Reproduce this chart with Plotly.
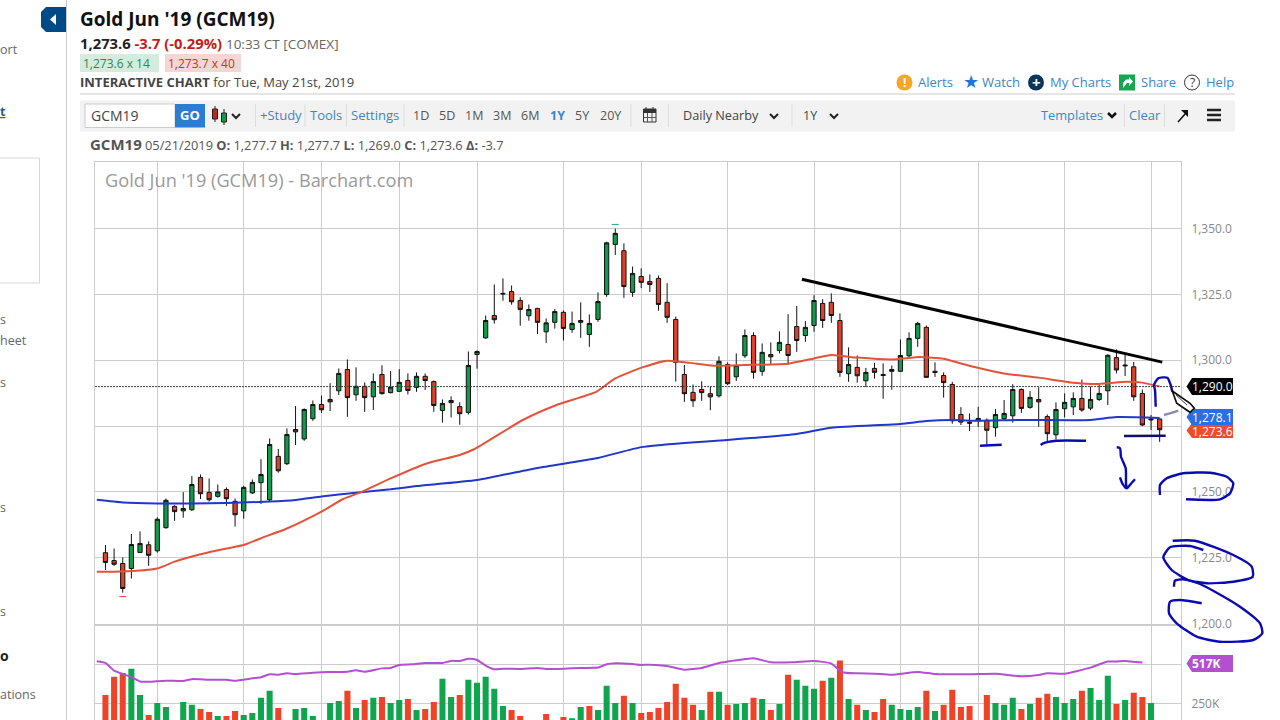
import plotly.graph_objects as go

######################### DATA #########################
opens = [1226.9,1223.9,1222.8,1220.9,1227.0,1229.9,1227.6,1236.4,1244.5,1242.8,
         1243.2,1255.5,1249.8,1248.3,1250.9,1246.4,1242.8,1249.6,1253.5,1247.0,
         1263.5,1260.7,1273.7,1270.1,1277.8,1283.2,1285.1,1288.4,1296.5,1286.9,
         1290.1,1286.1,1294.6,1287.7,1288.2,1292.3,1289.7,1293.9,1291.9,1280.9,
         1284.7,1282.4,1280.2,1302.2,1308.5,1317.0,1325.4,1326.1,1322.7,1316.9,
         1319.7,1310.8,1314.4,1318.2,1311.7,1314.4,1309.8,1315.5,1325.0,1344.0,
         1341.6,1325.8,1331.8,1329.9,1331.1,1322.0,1315.5,1294.6,1287.8,1288.9,
         1287.3,1286.5,1298.4,1293.7,1301.7,1309.4,1295.8,1302.2,1303.7,1306.0,
         1312.8,1309.4,1313.2,1321.6,1322.0,1315.1,1294.9,1297.3,1292.2,1296.9,
         1294.6,1296.5,1295.8,1301.7,1308.3,1312.5,1295.8,1294.2,1290.8,1279.4,
         1276.4,1277.3,1277.2,1274.4,1277.8,1278.9,1288.9,1282.1,1285.1,1278.6,
         1271.7,1281.6,1282.3,1285.5,1281.8,1285.1,1288.4,1301.0,1298.2,1297.5,
         1287.4,1277.7,1277.7]
highs = [1229.8,1228.5,1225.1,1234.0,1235.0,1231.2,1240.3,1247.5,1244.9,1249.9,
         1256.0,1256.6,1255.1,1252.8,1251.7,1247.5,1252.3,1254.7,1262.4,1270.3,
         1266.3,1274.1,1282.6,1281.7,1284.7,1286.6,1291.3,1296.9,1300.3,1297.3,
         1291.6,1295.0,1298.1,1295.9,1296.6,1295.0,1295.4,1295.0,1292.3,1285.1,
         1286.3,1284.0,1303.3,1303.7,1317.0,1328.8,1331.1,1328.4,1323.9,1321.2,
         1319.9,1315.9,1319.5,1318.9,1318.5,1322.0,1317.4,1325.8,1345.0,1350.0,
         1344.4,1335.6,1334.9,1332.6,1332.2,1329.3,1316.6,1298.2,1290.8,1292.0,
         1289.9,1301.5,1299.2,1302.6,1311.7,1310.6,1306.4,1306.8,1311.0,1317.5,
         1320.6,1314.9,1324.7,1323.2,1325.4,1317.8,1304.9,1301.8,1297.1,1299.0,
         1298.8,1298.0,1307.9,1310.6,1314.6,1313.2,1299.2,1295.4,1291.8,1282.2,
         1279.8,1282.3,1277.9,1281.5,1284.9,1290.9,1289.3,1288.3,1289.7,1279.4,
         1284.0,1287.4,1287.8,1292.7,1290.0,1290.8,1302.3,1304.1,1302.0,1299.4,
         1288.9,1279.2,1277.7]
lows = [1220.3,1221.9,1211.7,1217.1,1226.9,1221.9,1226.9,1236.0,1239.0,1240.2,
        1242.8,1247.3,1246.3,1247.8,1244.7,1236.8,1239.8,1249.2,1245.4,1246.5,
        1257.3,1260.2,1267.8,1269.4,1277.0,1280.0,1280.7,1286.8,1278.5,1284.6,
        1280.4,1281.1,1287.0,1287.4,1288.0,1287.0,1288.0,1288.7,1280.4,1276.3,
        1278.3,1275.5,1279.4,1296.8,1308.2,1313.9,1322.6,1321.1,1313.1,1315.0,
        1310.0,1306.6,1312.0,1307.5,1310.4,1308.5,1305.1,1314.6,1324.1,1340.0,
        1323.7,1324.1,1327.4,1325.9,1318.8,1314.2,1291.9,1284.2,1282.3,1284.6,
        1281.0,1285.8,1290.6,1292.1,1300.9,1293.0,1294.1,1298.3,1302.6,1298.3,
        1303.2,1307.0,1310.8,1312.3,1314.2,1293.7,1291.8,1291.5,1289.9,1293.0,
        1285.4,1288.8,1295.6,1300.9,1305.1,1293.5,1293.7,1285.8,1275.9,1275.4,
        1273.1,1274.7,1267.8,1271.0,1277.3,1276.3,1280.0,1281.6,1274.7,1268.8,
        1269.9,1278.3,1279.2,1280.4,1281.0,1284.5,1283.0,1295.0,1294.0,1284.6,
        1275.0,1273.5,1269.0]
closes = [1223.2,1222.5,1213.3,1230.0,1230.4,1225.9,1239.6,1246.8,1242.5,1243.7,
          1252.8,1249.3,1247.0,1250.0,1247.4,1241.3,1251.7,1253.6,1256.6,1268.0,
          1258.0,1271.8,1272.8,1281.3,1283.2,1281.2,1284.2,1295.0,1285.8,1290.1,
          1285.8,1291.9,1287.3,1289.8,1291.6,1288.5,1293.9,1292.3,1282.8,1283.6,
          1283.9,1279.7,1298.0,1303.3,1315.1,1315.4,1325.2,1322.2,1319.3,1319.3,
          1314.4,1314.2,1318.5,1312.1,1314.0,1315.1,1314.0,1322.3,1344.6,1348.2,
          1328.0,1333.0,1329.6,1328.8,1321.2,1316.3,1299.2,1287.3,1284.6,1287.7,
          1286.1,1299.6,1291.1,1298.0,1309.4,1295.4,1303.0,1301.3,1306.8,1301.8,
          1307.5,1312.5,1322.7,1315.1,1317.0,1295.4,1298.4,1294.1,1295.4,1295.4,
          1294.2,1295.8,1301.8,1308.3,1314.0,1293.5,1295.4,1291.5,1277.0,1276.5,
          1276.1,1277.9,1273.4,1279.4,1279.8,1288.9,1281.7,1285.9,1284.2,1272.1,
          1281.3,1284.0,1285.5,1281.1,1285.1,1287.4,1301.9,1296.3,1297.9,1286.1,
          1275.4,1277.4,1273.6]

month_ticks = [6, 16, 25, 34, 43, 53, 62, 72, 82, 92, 101, 111, 121]
price_ticks = [1200, 1225, 1250, 1275, 1300, 1325, 1350]
price_labels = ["1,200.0", "1,225.0", "1,250.0", "", "1,300.0", "1,325.0", "1,350.0"]

ma200_x = [-1,2,6,10,14,19,22,25,29,33,36,43,50,57,62,67,72,80,84,92,95,98,101,106,114,117,122]
ma200 = [1247.0,1246.0,1245.6,1245.6,1245.8,1246.3,1246.9,1248.2,1249.7,1251.0,1252.2,1254.5,
         1259.1,1262.9,1267.0,1268.6,1269.7,1272.0,1274.4,1275.8,1276.9,1277.3,1277.0,1277.3,
         1277.3,1278.4,1278.1]
ma50_x = [-1,1,3,6,8,11,14,16,18,21,25,27.5,29.5,33,37,41,42.6,48.3,52.2,56.8,59,62.3,65,67.6,
          70.4,74,79,82,84,87,91,94.3,97,99,101.3,104,108,112,115,118.2,120,122]
ma50 = [1219.7,1219.7,1219.9,1220.9,1223.5,1226.3,1228.5,1229.8,1232.4,1236.1,1242.5,1247.3,
        1249.8,1255.1,1260.6,1264.0,1266.1,1277.3,1283.0,1288.0,1293.1,1297.5,1299.8,1299.0,
        1297.9,1298.2,1298.7,1300.7,1302.0,1301.0,1300.3,1301.2,1300.6,1298.8,1296.9,1295.0,
        1293.4,1291.5,1291.0,1291.8,1291.5,1290.0]

trend_x = [80.6, 122.3]
trend_y = [1330.8, 1299.3]
crosshair_price = 1290.0
hi_lo_x = [59, 2]
hi_lo_y = [1351.6, 1210.2]

volumes = [308,425,448,476,308,179,256,231,130,263,
           244,218,198,172,172,205,179,192,289,334,
           224,130,218,224,172,130,256,269,334,224,
           276,289,295,256,276,282,211,218,263,412,
           295,308,405,386,425,347,237,211,172,130,
           130,185,130,166,159,231,237,211,366,256,
           302,256,192,198,224,263,379,289,244,211,
           328,328,244,250,256,289,282,211,250,437,
           405,366,347,399,418,528,282,244,211,198,
           282,244,218,211,231,334,205,244,341,231,
           237,130,308,256,244,289,218,250,289,315,
           295,256,282,334,353,276,431,250,276,321,
           295,256,100]
vol_dir = ("DDDUUDUUDU" "UDDUDDUUUU" "DUUUUUUUDU" "DUDUUDUDDU" "UDUUUUUDDD"
           "DDDDUUDUUU" "DUDDDD" "DDDUDUDUUD" "UDUDUUUDUD" "UDUDDUUUUD"
           "UDDDDDDUUU" "DUDDUUUDUU" "UDUDDUD")
vol_ma_x = [-1,0,1,2,3,4,5,7,9,10,12,14,15,17,18,19,20,21,22,24,26,28,29,30,32,33,34,35.5,37,
            39,40,41,42,43,44,45,46,48,50,51,53,55,57,58,59,61,62,63,65,67,69,71,72,73,75,77,
            79.5,82,84,85.3,87,89,91,94,96,100,103,106,108,109,111,114,116,117,118,120]
vol_ma = [524,513,463,442,422,394,392,399,397,409,405,405,399,414,421,440,437,446,442,450,455,
          457,466,457,478,481,500,504,513,513,526,526,539,532,496,472,476,474,481,474,476,481,
          483,504,511,506,500,502,494,470,481,513,522,530,543,517,517,526,509,453,446,444,437,
          455,442,440,444,427,435,446,444,483,522,522,526,515]
vol_ticks = [250, 500]
vol_labels = ["250K", ""]

GRID = "#cccccc"
BLUE = "#3a87c8"
GREY = "#666666"
INK = "#0a0ab4"
FONT = "Open Sans"

fig = go.Figure()

######################### CHART #########################
fig.add_trace(go.Scatter(x=ma200_x, y=ma200, mode="lines", line=dict(color="#2236c8", width=2, shape="spline", smoothing=0.5), hoverinfo="skip"))
fig.add_trace(go.Scatter(x=ma50_x, y=ma50, mode="lines", line=dict(color="#e2533c", width=2, shape="spline", smoothing=0.5), hoverinfo="skip"))
fig.add_trace(go.Candlestick(x=list(range(len(opens))), open=opens, high=highs, low=lows, close=closes,
    increasing=dict(fillcolor="#0f9b4a", line=dict(color="#111111", width=1)),
    decreasing=dict(fillcolor="#e0402a", line=dict(color="#111111", width=1)),
    whiskerwidth=0))
fig.add_trace(go.Scatter(x=hi_lo_x, y=hi_lo_y, mode="markers", hoverinfo="skip",
    marker=dict(symbol="line-ew", size=5, line=dict(width=1, color=["#2a9d8f", "#e0402a"]))))
fig.add_trace(go.Scatter(x=trend_x, y=trend_y, mode="lines", line=dict(color="#000000", width=3), hoverinfo="skip"))
fig.add_hline(y=crosshair_price, line=dict(color="#444444", width=1, dash="2px,1px"))

fig.add_trace(go.Bar(x=list(range(len(volumes))), y=volumes, xaxis="x2", yaxis="y2",
    marker=dict(color=["#0fa54e" if d == "U" else "#ee4326" for d in vol_dir], line_width=0)))
fig.add_trace(go.Scatter(x=vol_ma_x, y=vol_ma, xaxis="x2", yaxis="y2", mode="lines",
    line=dict(color="#b44fd0", width=2, shape="spline", smoothing=0.5), hoverinfo="skip"))

######################### PEN STROKES (screen overlay) #########################
strokes = [
    ([980,1001.7], [445.7,444.7], INK),
    ([1040.7,1043,1056.7,1086], [445,443.3,440.7,440.7], INK),
    ([1124,1165.7], [436,435.7], "#101070"),
    ([1155.7,1155,1154,1158.3,1167.3,1170.7,1172.3], [406.7,390,385,378.3,377.7,385,391.7], INK),
    ([1116.7,1120,1121,1125.7,1126,1126.7], [447.3,448.3,456.7,468.3,483.3,488.3], INK),
    ([1120,1122.3,1126.7,1130.7,1135], [477.3,483.3,488.3,484,479.3], INK),
    ([1160,1160,1166.7,1183.3,1210,1226.7,1233.3,1230,1220,1186],
     [495,485,478.3,473.3,472.7,476.7,483.3,493.3,499.3,499.3], INK),
    ([1172.7,1195,1233.3,1251.7,1252.7,1233.3,1206.7,1188.3,1171.7,1163.3,1170,1190,1203.3],
     [540.7,540.7,555,566.7,576.7,581.7,583.3,580,570,557.3,547.3,546,550], INK),
    ([1174,1175,1183.3,1200,1216.7,1240,1260,1262.3,1253.3,1220,1196.7,1176.7,1169,1170,1180,1201.7],
     [586.7,580.7,579.3,584,592.7,606.7,623.3,633.3,640,641.7,636.7,623.3,613.3,601.7,600,603.3], INK),
    ([1164,1170,1178.3], [415,413.3,410.7], "#8a8ab0"),
]
for sx, sy, col in strokes:
    fig.add_trace(go.Scatter(x=sx, y=sy, xaxis="x3", yaxis="y3", mode="lines",
        line=dict(color=col, width=2.4, shape="spline", smoothing=0.6), hoverinfo="skip"))

######################### PAGE CHROME #########################
shapes = []
notes = []

def rect(x0, y0, x1, y1, fill=None, line=None, width=1, kind="rect", layer="above"):
    shapes.append(dict(type=kind, xref="x3", yref="y3", x0=x0, y0=y0, x1=x1, y1=y1, layer=layer,
                       fillcolor=fill or "rgba(0,0,0,0)", line=dict(color=line or "rgba(0,0,0,0)", width=width if line else 0)))

def seg(x0, y0, x1, y1, color=GRID, width=1):
    shapes.append(dict(type="line", xref="x3", yref="y3", x0=x0, y0=y0, x1=x1, y1=y1, layer="above",
                       line=dict(color=color, width=width)))

def poly(pts, fill=None, line=None, width=1, closed=True):
    d = "M" + " L".join(f"{a},{b}" for a, b in pts) + (" Z" if closed else "")
    shapes.append(dict(type="path", path=d, xref="x3", yref="y3", layer="above",
                       fillcolor=fill or "rgba(0,0,0,0)", line=dict(color=line or "rgba(0,0,0,0)", width=width if line else 0)))

def text(x, y, s, size=13, color=GREY, anchor="left", family=FONT):
    notes.append(dict(xref="x3", yref="y3", x=x, y=y, text=s, showarrow=False, xanchor=anchor, yanchor="middle",
                      align=anchor, borderpad=0, borderwidth=0, font=dict(family=family, size=size, color=color)))

def chevron(cx, cy, color="#222222", width=2):
    poly([(cx-4, cy-2), (cx, cy+2), (cx+4, cy-2)], line=color, width=width, closed=False)

# left side rail, cut off by the frame
seg(66.5, 0, 66.5, 720)
rect(-2, 158, 39.5, 283, line="#d8d8d8")
poly([(41,12),(46,7),(66,7),(66,32),(46,32),(41,27)], fill="#004a86")
poly([(56,14),(50,19.5),(56,25)], fill="#ffffff")
text(0, 49, "ort", 12.5)
text(0, 111, "<b><u>t</u></b>", 12.5, "#1f5f99")
text(0, 319, "s", 12.5)
text(0, 340, "heet", 12.5)
text(0, 382, "s", 12.5)
text(0, 507, "s", 12.5)
text(0, 611, "s", 12.5)
text(0, 655, "<b>o</b>", 14, "#222222")
text(0, 694, "ations", 12.5)

# header
text(80, 19, "<b>Gold Jun '19 (GCM19)</b>", 19, "#111111")
text(80, 43, "<b>1,273.6</b> <b><span style='color:#c41a1a'>-3.7 (-0.29%)</span></b> <span style='font-size:13.5px;color:#666666'>10:33 CT [COMEX]</span>", 14.8, "#222222")
rect(80, 54, 159, 72, fill="#d4ebdd")
rect(165, 54, 241, 72, fill="#f6d5d5")
text(83, 63, "1,273.6 x 14", 12, "#2d8a4e")
text(168, 63, "1,273.7 x 40", 12, "#c0392b")
text(80, 82, "<b>INTERACTIVE CHART</b> for Tue, May 21st, 2019", 13, "#444444")

# link row
rect(896.5, 74.5, 912.5, 90.5, fill="#f5a623", kind="circle")
text(904.5, 82.5, "<b>!</b>", 12, "#ffffff", "center")
text(918, 82, "Alerts", 13, BLUE)
text(971, 81, "★", 18, "#1f75d8", "center", "DejaVu Sans")
text(982, 82, "Watch", 13, BLUE)
rect(1028, 74.5, 1044, 90.5, fill="#0b3559", kind="circle")
text(1036, 82, "<b>+</b>", 15, "#ffffff", "center")
text(1050, 82, "My Charts", 13, BLUE)
rect(1119, 74.5, 1135, 90.5, fill="#12a84f")
poly([(1123,88),(1123,83),(1126,79.5),(1129,79.5),(1129,77),(1133,81.5),(1129,86),(1129,83),(1127,83),(1125.5,85)], fill="#ffffff")
text(1141, 82, "Share", 13, BLUE)
rect(1184.5, 75, 1199.5, 90, line="#333333", kind="circle")
text(1192, 82.5, "?", 12, "#333333", "center")
text(1206, 82, "Help", 13, BLUE)
seg(80, 94, 1235, 94)

# toolbar
rect(80, 100.5, 1235, 131.5, fill="#f2f2f2", layer="below")
rect(85, 104, 175, 127.5, fill="#ffffff", line="#cccccc")
text(91, 115, "GCM19", 14, "#444444")
rect(175, 104, 205, 127.5, fill="#2b7cd3")
text(190, 115, "<b>GO</b>", 13, "#ffffff", "center")
seg(215, 106, 215, 122, "#222222")
rect(212.5, 109, 217.5, 119, fill="#c0271c", line="#222222")
seg(224, 109, 224, 125, "#222222")
rect(221.5, 113, 226.5, 122, fill="#0f9b4a", line="#222222")
chevron(236, 116)
for sx in [255.5, 305, 346.5, 404, 631, 668.5, 792, 1124.5, 1164.5]:
    seg(sx, 104, sx, 127, "#dddddd")
text(260, 114.5, "+Study", 13, BLUE)
text(310, 114.5, "Tools", 13, BLUE)
text(351, 114.5, "Settings", 13, BLUE)
for cx, lab in [(421, "1D"), (447, "5D"), (474, "1M"), (502, "3M"), (530, "6M"), (582, "5Y"), (610, "20Y")]:
    text(cx, 115, lab, 12.5, "#555555", "center")
text(557, 115, "<b>1Y</b>", 12.5, BLUE, "center")
rect(643.5, 109, 656, 122, fill="#f2f2f2", line="#333333")
rect(643.5, 109, 656, 113, fill="#333333")
seg(646, 107, 646, 110, "#333333")
seg(653, 107, 653, 110, "#333333")
seg(647.5, 113, 647.5, 122, "#555555")
seg(652, 113, 652, 122, "#555555")
seg(643.5, 117.5, 656, 117.5, "#555555")
text(683, 114.5, "Daily Nearby", 12.7, "#444444")
chevron(774, 116)
text(803, 115, "1Y", 12.5, "#444444")
chevron(834, 116)
text(1041, 114.5, "Templates", 12.8, BLUE)
chevron(1112, 115, "#111111", 2.5)
text(1129, 114.5, "Clear", 13, BLUE)
seg(1178, 122, 1186, 113, "#111111", 1.5)
poly([(1188,110),(1188,117),(1181,110)], fill="#111111")
for by in [110, 115, 120]:
    seg(1207, by, 1221, by, "#222222", 2.5)

# quote line and chart title
text(90, 144, "<span style='font-size:15px'><b>GCM19</b></span> 05/21/2019 <b>O:</b> 1,277.7 <b>H:</b> 1,277.7 <b>L:</b> 1,269.0 <b>C:</b> 1,273.6 <b>Δ:</b> -3.7", 12.8, "#555555")
text(105, 180, "Gold Jun '19 (GCM19) - Barchart.com", 18.2, "#9a9a9a")

# price tags
def tag(y0, y1, fill, s, cy=None):
    ym = (y0 + y1) / 2
    poly([(1186.5, ym), (1192, y0), (1233, y0), (1233, y1), (1192, y1)], fill=fill)
    text(1191.5, cy or ym, s, 12, "#ffffff")

tag(423, 438, "#ef4c2f", "1,273.6", 431.5)
tag(409, 425, "#2a6fe0", "1,278.1", 417)
tag(378, 395, "#000000", "1,290.0")
tag(655, 672, "#b44fd0", "<b>517K</b>")

# pencil cursor
poly([(1172.3,391),(1190,403.3),(1194.3,408.3),(1190,412.3),(1176.7,403.3)], fill="#ffffff", line="#111111", width=1.7)
seg(1176, 395, 1187, 405, "#444444", 1)

######################### LAYOUT #########################
x_range = [-1.21, 124.47]
axis_x = dict(range=x_range, tickmode="array", tickvals=month_ticks, showticklabels=False, ticks="",
              showgrid=True, gridcolor=GRID, gridwidth=1, zeroline=False, showline=True, mirror=True,
              linecolor=GRID, linewidth=1, fixedrange=True)
fig.update_layout(
    width=1280, height=720, margin=dict(l=0, r=0, t=0, b=0, pad=0, autoexpand=False), autosize=False,
    paper_bgcolor="white", plot_bgcolor="rgba(0,0,0,0)", showlegend=False, bargap=0.3, boxgap=0.3,
    font=dict(family=FONT),
    xaxis=dict(axis_x, domain=[95/1280, 1181/1280], anchor="y", rangeslider=dict(visible=False)),
    yaxis=dict(domain=[(720-623.5)/720, (720-161.5)/720], range=[1200, 1375.5], side="right", anchor="x",
               tickmode="array", tickvals=price_ticks, ticktext=price_labels, ticks="outside", ticklen=7,
               tickcolor="rgba(0,0,0,0)", tickfont=dict(size=12, color="#888888", family=FONT),
               gridcolor=GRID, zeroline=False, showline=True, mirror=True, linecolor=GRID, fixedrange=True),
    xaxis2=dict(axis_x, domain=[95/1280, 1181/1280], anchor="y2"),
    yaxis2=dict(domain=[0, (720-625.5)/720], range=[147, 753], side="right", anchor="x2",
                tickmode="array", tickvals=vol_ticks, ticktext=vol_labels, ticks="outside", ticklen=7,
                tickcolor="rgba(0,0,0,0)", tickfont=dict(size=12, color="#888888", family=FONT),
                gridcolor=GRID, zeroline=False, showline=True, mirror=True, linecolor=GRID, fixedrange=True),
    xaxis3=dict(domain=[0, 1], range=[0, 1280], visible=False, anchor="y3", fixedrange=True),
    yaxis3=dict(domain=[0, 1], range=[720, 0], visible=False, anchor="x3", fixedrange=True),
    shapes=list(fig.layout.shapes) + shapes,
    annotations=notes,
)

fig.write_html("out.html", config=dict(displayModeBar=False), post_script="document.body.style.margin='0';")
